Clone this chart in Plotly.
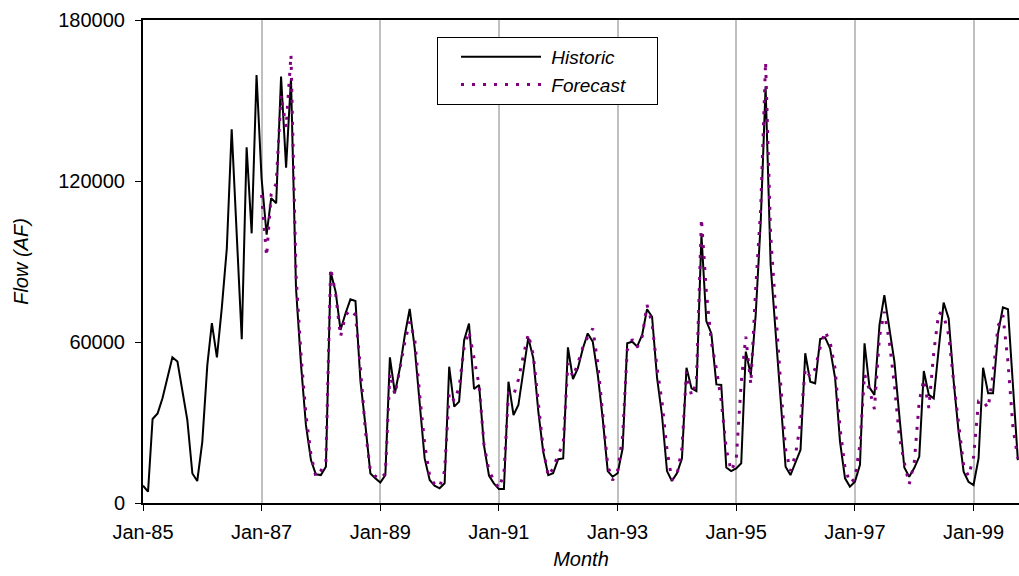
import pandas as pd
import plotly.graph_objects as go

# Monthly flow (AF), Jan-1985 onward
historic = [
    6500, 4200, 31300, 33400, 39000, 46500, 54300, 52700, 42100, 30900, 11000, 8200,      # 1985
    22800, 51400, 67000, 54300, 72600, 94900, 139300, 98000, 61000, 132600, 100500, 159500,  # 1986
    121000, 100000, 113600, 111700, 158900, 125000, 158300, 80000, 51400, 29100, 16000, 10700,  # 1987
    10400, 13500, 86200, 78700, 64500, 70700, 75900, 75300, 45200, 29100, 11000, 9200,   # 1988
    7600, 10400, 54300, 40900, 50200, 62600, 72300, 57600, 37800, 16600, 8600, 6450,      # 1989
    5470, 7330, 50800, 35900, 37800, 60700, 66900, 42500, 44000, 21600, 10200, 7330,      # 1990
    5200, 5200, 45200, 32800, 36500, 50200, 61600, 53900, 34000, 19100, 10400, 11100,     # 1991
    16300, 16600, 58000, 46200, 50200, 57600, 63200, 60100, 47700, 31600, 11900, 9800,    # 1992
    11100, 20400, 59500, 60100, 58300, 62600, 72200, 69400, 46500, 32800, 11900, 8200,    # 1993
    11100, 16600, 50400, 42700, 41700, 99900, 67800, 63200, 44200, 44000, 13200, 11900,   # 1994
    12900, 14800, 56400, 47700, 70100, 104900, 155200, 88700, 63200, 41500, 13500, 10400, # 1995
    15400, 19800, 55800, 45200, 44600, 61100, 61700, 57600, 46500, 22900, 9200, 6100,     # 1996
    7950, 14200, 59500, 43000, 40300, 66300, 77500, 65100, 52700, 32800, 13200, 9800,     # 1997
    13000, 17300, 49200, 40300, 39000, 57600, 74700, 68800, 45200, 26600, 11700, 7900,    # 1998
    6700, 16600, 50400, 40900, 40900, 63200, 72900, 72200, 45000, 16000,                  # 1999
]

# Forecast begins Jan-1987
forecast = [
    114800, 92000, 115000, 119000, 152000, 140000, 167000, 85000, 55000, 33000, 18000, 9800,  # 1987
    12000, 15400, 87500, 78000, 62000, 70000, 72000, 70000, 50000, 27000, 12000, 10000,   # 1988
    9000, 11000, 48300, 40300, 50000, 60000, 67600, 61000, 40000, 22000, 10000, 7000,     # 1989
    6000, 12000, 41000, 38000, 43000, 58000, 64000, 54500, 44000, 22000, 12000, 8500,     # 1990
    5500, 11000, 41000, 40000, 46000, 55000, 63000, 55000, 38000, 20000, 10000, 13000,    # 1991
    18000, 22000, 52000, 47000, 52000, 58000, 62000, 65000, 52000, 33000, 14000, 8500,    # 1992
    12000, 25000, 57000, 61000, 58000, 62000, 73800, 67000, 50200, 37800, 19800, 8600,    # 1993
    10400, 20400, 48900, 40000, 45000, 106000, 78800, 60000, 50000, 38000, 20000, 12000,  # 1994
    16000, 45000, 62000, 44200, 80000, 110000, 164500, 100000, 70000, 45000, 20000, 12000, # 1995
    18000, 30000, 50000, 47000, 50000, 58000, 64000, 60000, 50000, 28000, 13000, 7500,    # 1996
    9000, 22000, 48000, 42000, 35000, 62000, 71300, 60000, 44000, 25000, 15000, 7000,     # 1997
    15000, 38000, 46000, 35400, 56000, 71000, 70000, 62600, 45000, 29000, 14000, 10000,   # 1998
    17000, 38000, 38000, 35400, 48000, 66000, 70000, 52700, 28000, 16600,                 # 1999
]

y_ticks = [0, 60000, 120000, 180000]

months = pd.date_range("1985-01-01", periods=len(historic), freq="MS")
fc_months = months[len(historic) - len(forecast):]

FONT = "Liberation Sans, Arial, sans-serif"
NB = "\u00a0"

fig = go.Figure()
fig.add_trace(go.Scatter(
    x=months, y=historic, mode="lines", name=NB + "Historic" + NB * 6,
    line=dict(color="black", width=2),
))
fig.add_trace(go.Scatter(
    x=fc_months, y=forecast, mode="lines", name=NB + "Forecast" + NB * 5,
    line=dict(color="#800080", width=3, dash="3px,8px"),
))

fig.update_layout(
    width=1019, height=576,
    margin=dict(l=143, r=0, t=20, b=73),
    paper_bgcolor="white", plot_bgcolor="white",
    font=dict(family=FONT, size=20, color="black"),
    showlegend=True,
    legend=dict(
        x=(437 - 143) / 876, y=(503 - 37) / 483, xanchor="left", yanchor="top",
        bgcolor="white", bordercolor="black", borderwidth=1,
        font=dict(family=FONT, size=19, color="black", style="italic"),
        itemwidth=80, tracegroupgap=0, indentation=18,
    ),
    xaxis=dict(
        type="date",
        range=["1985-01-01", "1999-10-08"],
        tick0="1985-01-01", dtick="M24", tickformat="%b-%y",
        showgrid=True, gridcolor="#c0c0c0", gridwidth=2,
        showline=True, linecolor="black", linewidth=2, mirror=True,
        ticks="outside", ticklen=6, tickcolor="black", tickwidth=1,
        zeroline=False,
        ticklabelstandoff=4,
        title=dict(text="Month", font=dict(family=FONT, size=20, style="italic"), standoff=10),
    ),
    yaxis=dict(
        range=[0, 180000],
        tickvals=y_ticks, tickformat="d",
        showgrid=False, zeroline=False,
        showline=True, linecolor="black", linewidth=2,
        ticks="outside", ticklen=6, tickcolor="black", tickwidth=1,
        ticklabelstandoff=6,
        title=dict(text="Flow (AF)", font=dict(family=FONT, size=20, style="italic"), standoff=24),
    ),
)

fig.write_html("out.html")
